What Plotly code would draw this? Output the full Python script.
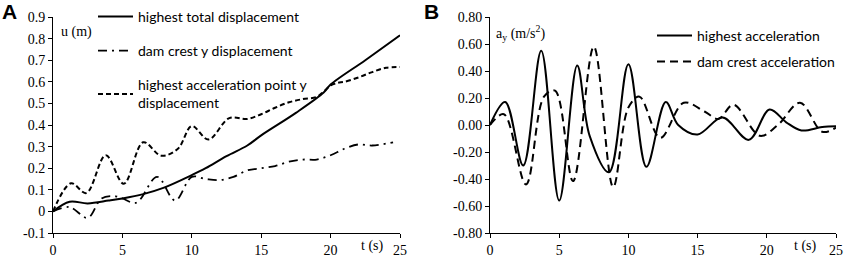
import plotly.graph_objects as go

# Panel A: displacement (m) vs time (s)
tA_total = [0, 1.2, 2.5, 4, 5, 6.5, 8, 10, 11, 12.5, 14, 15, 17.5, 19.5, 20, 22.5, 25]
uA_total = [0, 0.045, 0.037, 0.05, 0.06, 0.08, 0.11, 0.168, 0.2, 0.256, 0.305, 0.352, 0.456, 0.55, 0.587, 0.70, 0.815]

tA_crest = [0, 1.2, 2.5, 3.5, 4.5, 5, 6, 7.5, 8.8, 10, 11, 12, 13, 14, 15, 16, 17, 18, 19, 20, 21, 22, 23, 24.5]
uA_crest = [0, 0.02, -0.03, 0.06, 0.07, 0.06, 0.04, 0.16, 0.05, 0.16, 0.15, 0.145, 0.16, 0.19, 0.20, 0.21, 0.23, 0.24, 0.24, 0.26, 0.29, 0.31, 0.305, 0.32]

tA_acc = [0, 1.3, 2.4, 3.8, 5.1, 6.5, 7.8, 9, 10, 11.2, 12.7, 14, 15, 16, 17, 18, 19, 19.5, 20, 20.5, 21, 22, 23, 24, 25]
uA_acc = [0, 0.13, 0.085, 0.26, 0.128, 0.32, 0.258, 0.29, 0.395, 0.333, 0.432, 0.428, 0.45, 0.48, 0.505, 0.52, 0.53, 0.555, 0.583, 0.595, 0.60, 0.62, 0.645, 0.665, 0.668]

# Panel B: acceleration (m/s2) vs time (s)
tB_high = [0, 1.1, 2.4, 3.7, 5.0, 6.3, 7.2, 8.6, 10, 11.3, 12.7, 13.6, 15, 16.8, 18.7, 20.2, 21.4, 22.5, 24, 25]
aB_high = [0, 0.17, -0.30, 0.55, -0.56, 0.44, -0.08, -0.35, 0.45, -0.31, 0.17, 0.0, -0.07, 0.055, -0.11, 0.115, 0.02, -0.04, -0.015, -0.01]

tB_crest = [0, 1.0, 2.6, 3.9, 4.7, 6.0, 7.5, 8.9, 10, 10.8, 12.3, 14.0, 15.5, 16.5, 17.6, 19.5, 20.8, 22.4, 24, 25]
aB_crest = [0, 0.08, -0.44, 0.21, 0.255, -0.415, 0.58, -0.46, 0.13, 0.21, -0.095, 0.165, 0.10, 0.045, 0.15, -0.08, 0.0, 0.165, -0.05, -0.02]

xticks = [0, 5, 10, 15, 20, 25]
yticksA = [-0.1, 0, 0.1, 0.2, 0.3, 0.4, 0.5, 0.6, 0.7, 0.8, 0.9]
yticksA_text = ["-0.1", "0", "0.1", "0.2", "0.3", "0.4", "0.5", "0.6", "0.7", "0.8", "0.9"]
yticksB = [-0.8, -0.6, -0.4, -0.2, 0, 0.2, 0.4, 0.6, 0.8]
yticksB_text = ["-0.80", "-0.60", "-0.40", "-0.20", "0.00", "0.20", "0.40", "0.60", "0.80"]

W, H = 844, 258
serif = "Liberation Serif"
sans = "Lato"
SM = 1.0

fig = go.Figure()
fig.add_trace(go.Scatter(x=tA_total, y=uA_total, mode="lines", line=dict(color="black", width=2, shape="spline", smoothing=SM),
                         name="highest total displacement", xaxis="x", yaxis="y", legend="legend", legendgroup="a1"))
fig.add_trace(go.Scatter(x=tA_crest, y=uA_crest, mode="lines", line=dict(color="black", width=1.8, shape="spline", smoothing=SM, dash="9px,5px,2px,5px"),
                         name="dam crest y displacement", xaxis="x", yaxis="y", legend="legend", legendgroup="a2"))
fig.add_trace(go.Scatter(x=tA_acc, y=uA_acc, mode="lines", line=dict(color="black", width=2, shape="spline", smoothing=SM, dash="5px,3px"),
                         name="highest acceleration point y<br>displacement", xaxis="x", yaxis="y", legend="legend", legendgroup="a3"))
fig.add_trace(go.Scatter(x=tB_high, y=aB_high, mode="lines", line=dict(color="black", width=2, shape="spline", smoothing=SM),
                         name="highest acceleration", xaxis="x2", yaxis="y2", legend="legend2", legendgroup="b1"))
fig.add_trace(go.Scatter(x=tB_crest, y=aB_crest, mode="lines", line=dict(color="black", width=2, shape="spline", smoothing=SM, dash="8px,5px"),
                         name="dam crest acceleration", xaxis="x2", yaxis="y2", legend="legend2", legendgroup="b2"))

axis_common = dict(showgrid=False, zeroline=False, showline=True, linecolor="black", linewidth=1,
                   ticks="outside", ticklen=4, tickcolor="black", automargin=False,
                   tickfont=dict(family=serif, size=14, color="black"))

lab_font = dict(family=serif, size=14, color="black")
tY = 1 - (246 - 17) / 216
fig.update_layout(
    width=W, height=H,
    margin=dict(l=0, r=0, t=17, b=25, autoexpand=False),
    paper_bgcolor="white", plot_bgcolor="white",
    xaxis=dict(domain=[53/W, 400/W], range=[0, 25], tickvals=xticks, anchor="y", **axis_common),
    yaxis=dict(domain=[0, 1], range=[-0.1, 0.9], tickvals=yticksA, ticktext=yticksA_text, anchor="x", **axis_common),
    xaxis2=dict(domain=[490/W, 836/W], range=[0, 25], tickvals=xticks, anchor="y2", **axis_common),
    yaxis2=dict(domain=[0, 1], range=[-0.8, 0.8], tickvals=yticksB, ticktext=yticksB_text, anchor="x2", **axis_common),
    legend=dict(x=93/W, y=1.075, xanchor="left", yanchor="top", bgcolor="rgba(0,0,0,0)",
                font=dict(family=sans, size=14, color="black"), tracegroupgap=13, itemwidth=35),
    legend2=dict(x=652/W, y=0.987, xanchor="left", yanchor="top", bgcolor="rgba(0,0,0,0)",
                 font=dict(family=sans, size=14, color="black"), tracegroupgap=5, itemwidth=35),
    annotations=[
        dict(text="<b>A</b>", x=0, y=1.025, xref="paper", yref="paper", showarrow=False, xanchor="left", yanchor="middle",
             font=dict(family="Liberation Sans", size=21, color="black")),
        dict(text="<b>B</b>", x=422/W, y=1.025, xref="paper", yref="paper", showarrow=False, xanchor="left", yanchor="middle",
             font=dict(family="Liberation Sans", size=21, color="black")),
        dict(text="u (m)", x=0.4, y=0.83, xref="x", yref="y", showarrow=False, xanchor="left", font=lab_font),
        dict(text="t (s)", x=23.05, y=tY, xref="x", yref="paper", showarrow=False, yanchor="middle", font=lab_font),
        dict(text="a<sub>y</sub> (m/s<sup>2</sup>)", x=0.3, y=0.68, xref="x2", yref="y2", showarrow=False, xanchor="left", font=lab_font),
        dict(text="t (s)", x=22.76, y=tY, xref="x2", yref="paper", showarrow=False, yanchor="middle", font=lab_font),
    ],
)

fig.write_html("out.html", config={"displayModeBar": False},
               post_script="document.body.style.margin='0';document.body.style.overflow='hidden';")
